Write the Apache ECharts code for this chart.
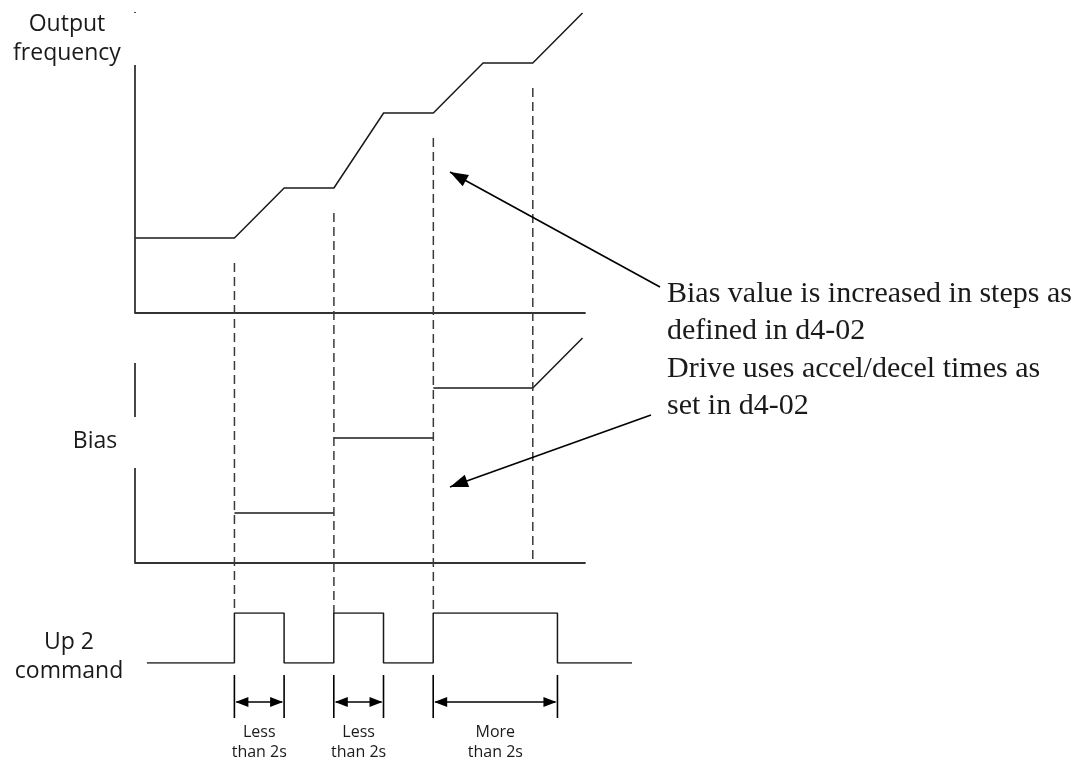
<!DOCTYPE html>
<html><head><meta charset="utf-8">
<script src="https://cdn.jsdelivr.net/npm/echarts@6/dist/echarts.min.js"></script>
<style>html,body{margin:0;padding:0;background:#fff}#c{width:1077px;height:767px}</style>
</head><body><div id="c"></div>
<script>
// ---- data ----
const freqTimes = [0, 2, 3, 4, 5, 6, 7, 8, 9];
const freqValues = [3, 3, 5, 5, 8, 8, 10, 10, 12];
const biasSegments = [
  [[2, 2], [4, 2]],
  [[4, 5], [6, 5]],
  [[6, 7], [8, 7], [9, 9]]
];
const cmdTimes = [0.24, 2, 3, 4, 5, 6, 8.5, 10];
const cmdValues = [0, 1, 0, 1, 0, 1, 0, 0];
const guideTimes = [2, 4, 6, 8];
const pulseWidths = [[2, 3], [4, 5], [6, 8.5]];
const pulseLabels = ['Less\nthan 2s', 'Less\nthan 2s', 'More\nthan 2s'];
const freqAxisSpans = [[0, 9.92], [12, 12.08]];
const biasAxisSpans = [[0, 3.8], [5.84, 8]];
const panelLabels = ['Output\nfrequency', 'Bias', 'Up 2\ncommand'];
const noteLines = ['Bias value is increased in steps as', 'defined in d4-02', 'Drive uses accel/decel times as', 'set in d4-02'];

const INK = '#1a1a1a';
const chart = echarts.init(document.getElementById('c'), null, {renderer: 'canvas'});

function hiddenAxis(extra) {
  return Object.assign({type: 'value', axisLine: {show: false}, axisTick: {show: false},
    axisLabel: {show: false}, splitLine: {show: false}}, extra);
}
const series = [];
series.push({type: 'line', xAxisIndex: 0, yAxisIndex: 0, symbol: 'none',
  lineStyle: {color: INK, width: 1.5}, data: freqTimes.map((t, i) => [t, freqValues[i]])});
freqAxisSpans.forEach(s => series.push({type: 'line', xAxisIndex: 0, yAxisIndex: 0, symbol: 'none',
  lineStyle: {color: '#333', width: 1.8}, data: [[0, s[0]], [0, s[1]]]}));
biasSegments.forEach(seg => series.push({type: 'line', xAxisIndex: 1, yAxisIndex: 1, symbol: 'none',
  lineStyle: {color: INK, width: 1.5}, data: seg}));
biasAxisSpans.forEach(s => series.push({type: 'line', xAxisIndex: 1, yAxisIndex: 1, symbol: 'none',
  lineStyle: {color: '#333', width: 1.8}, data: [[0, s[0]], [0, s[1]]]}));
series.push({type: 'line', xAxisIndex: 2, yAxisIndex: 2, symbol: 'none', step: 'end',
  lineStyle: {color: INK, width: 1.5}, data: cmdTimes.map((t, i) => [t, cmdValues[i]])});

chart.setOption({
  animation: false,
  backgroundColor: '#fff',
  grid: [
    {left: 135, top: 13, width: 450, height: 300},
    {left: 135, top: 338, width: 450, height: 225},
    {left: 135, top: 613, width: 497, height: 50}
  ],
  xAxis: [
    hiddenAxis({gridIndex: 0, min: 0, max: 9.05, axisLine: {show: true, onZero: false, lineStyle: {color: '#333', width: 1.8}}}),
    hiddenAxis({gridIndex: 1, min: 0, max: 9.05, axisLine: {show: true, onZero: false, lineStyle: {color: '#333', width: 1.8}}}),
    hiddenAxis({gridIndex: 2, min: 0, max: 10})
  ],
  yAxis: [
    hiddenAxis({gridIndex: 0, min: 0, max: 12}),
    hiddenAxis({gridIndex: 1, min: 0, max: 9}),
    hiddenAxis({gridIndex: 2, min: 0, max: 1})
  ],
  series: series
});

// ---- overlays built from the scales ----
const g = [];
function px(grid, t, v) { return chart.convertToPixel({gridIndex: grid}, [t, v]); }
function freqAt(t) { return freqValues[freqTimes.indexOf(t)]; }

guideTimes.forEach(t => {
  const top = px(0, t, freqAt(t));
  const ci = cmdTimes.indexOf(t);
  const end = (ci >= 0 && cmdValues[ci] === 1) ? px(2, t, 1) : px(1, t, 0);
  g.push({type: 'line', z: 5, shape: {x1: top[0], y1: top[1] + 25, x2: top[0], y2: end[1]},
    style: {stroke: '#3a3a3a', lineWidth: 1.5, lineDash: [9, 5]}});
});

function arrowHead(tx, ty, fx, fy, len, hw) {
  const dx = tx - fx, dy = ty - fy, L = Math.hypot(dx, dy);
  const ux = dx / L, uy = dy / L;
  const bx = tx - ux * len, by = ty - uy * len;
  return {type: 'polygon', z: 6, shape: {points: [[tx, ty], [bx - uy * hw, by + ux * hw], [bx + uy * hw, by - ux * hw]]},
    style: {fill: '#000'}};
}

pulseWidths.forEach((p, i) => {
  const a = px(2, p[0], 0), b = px(2, p[1], 0);
  const base = a[1];
  [a[0], b[0]].forEach(x => g.push({type: 'line', shape: {x1: x, y1: base + 12, x2: x, y2: base + 55},
    style: {stroke: '#000', lineWidth: 1.6}}));
  const ay = base + 39;
  g.push({type: 'line', shape: {x1: a[0] + 2, y1: ay, x2: b[0] - 2, y2: ay}, style: {stroke: '#000', lineWidth: 1.6}});
  g.push(arrowHead(a[0] + 1, ay, b[0], ay, 13, 5));
  g.push(arrowHead(b[0] - 1, ay, a[0], ay, 13, 5));
  g.push({type: 'text', style: {text: pulseLabels[i], x: (a[0] + b[0]) / 2, y: base + 59,
    textAlign: 'center', align: 'center', textVerticalAlign: 'top', verticalAlign: 'top',
    font: '16px "Open Sans"', lineHeight: 20, fill: INK}});
});

// annotation arrows
[[660, 287, 450, 172], [651, 415, 450, 487]].forEach(a => {
  g.push({type: 'line', z: 6, shape: {x1: a[0], y1: a[1], x2: a[2], y2: a[3]}, style: {stroke: '#000', lineWidth: 1.6}});
  g.push(arrowHead(a[2], a[3], a[0], a[1], 18, 6.5));
});
g.push({type: 'text', style: {text: noteLines.join('\n'), x: 667, y: 275,
  textAlign: 'left', align: 'left', textVerticalAlign: 'top', verticalAlign: 'top',
  font: '30px "Liberation Serif"', lineHeight: 37.5, fill: INK}});

// panel labels
[[67, 38.5], [95, 441], [69, 656.5]].forEach((p, i) => g.push({type: 'text', style: {text: panelLabels[i], x: p[0], y: p[1],
  textAlign: 'center', align: 'center', textVerticalAlign: 'middle', verticalAlign: 'middle',
  font: '23px "Open Sans"', lineHeight: 29, fill: INK}}));

chart.setOption({graphic: {elements: g}});
</script>
</body></html>
